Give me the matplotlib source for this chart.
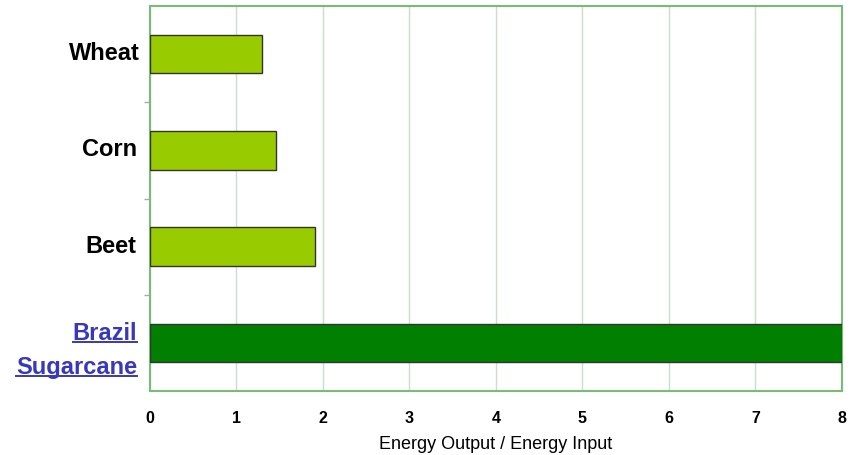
import matplotlib
matplotlib.use("Agg")
import matplotlib.pyplot as plt
from matplotlib.lines import Line2D
from matplotlib.transforms import offset_copy

plt.rcParams['font.family'] = ['Liberation Sans', 'DejaVu Sans']

categories = ["Wheat", "Corn", "Beet", "Brazil\nSugarcane"]
ratios = [1.29, 1.46, 1.91, 8.0]
bar_colors = ["#99cc00", "#99cc00", "#99cc00", "#007f00"]
x_ticks = [0, 1, 2, 3, 4, 5, 6, 7, 8]

W, H = 853, 456
fig = plt.figure(figsize=(W / 100, H / 100), dpi=100)
ax = fig.add_axes([150 / W, 1 - 392 / H, 692 / W, 385 / H])

ypos = list(range(len(categories)))
ax.barh(ypos, ratios, height=0.4, color=bar_colors, edgecolor="#333333",
        linewidth=1.0, zorder=3)

ax.set_xlim(0, 8)
ax.set_ylim(len(categories) - 0.5, -0.5)
ax.set_xticks(x_ticks)
ax.set_xticklabels([str(t) for t in x_ticks], fontsize=11.5, fontweight="bold")
ax.tick_params(axis="x", length=0, pad=14)
ax.grid(axis="x", color="#c8e0c8", linewidth=1.0, zorder=0)

ax.set_yticks(ypos)
ax.set_yticklabels([])
ax.tick_params(axis="y", which="major", length=0)
ax.set_yticks([0.5, 1.5, 2.5], minor=True)
ax.tick_params(axis="y", which="minor", length=4, color="#aaaaaa", width=1)

for s in ax.spines.values():
    s.set_color("#78bc78")
    s.set_linewidth(1.5)

ax.set_xlabel("Energy Output / Energy Input", fontsize=13, labelpad=7)

LABEL_SIZE = 17
LINK_BLUE = "#3838b8"
px = 0.72  # points per pixel at 100 dpi
xoff = -0.15


def label(text, yval, dy_px, color, dx_px=0):
    tr = offset_copy(ax.transData, fig=fig, x=dx_px * px, y=-dy_px * px,
                     units="points")
    return ax.text(xoff, yval, text, ha="right", va="baseline",
                   fontsize=LABEL_SIZE, fontweight="bold", color=color,
                   transform=tr)


label_dx = [3, 0, -1]
for i, name in enumerate(categories[:3]):
    label(name, i, 5, "black", label_dx[i])

# two-line hyperlink-style label, each line underlined
link_lines = categories[3].split("\n")
link_offsets = [-4, 30]
link_texts = [label(t, 3, d, LINK_BLUE) for t, d in zip(link_lines, link_offsets)]

fig.canvas.draw()
renderer = fig.canvas.get_renderer()
for t in link_texts:
    bb = t.get_window_extent(renderer)
    bx, by = t.get_transform().transform(t.get_position())
    y = by - 3.5
    fig.add_artist(Line2D([bb.x0 / W, bb.x1 / W], [y / H, y / H],
                          color=LINK_BLUE, linewidth=1.4,
                          transform=fig.transFigure))

fig.savefig("out.png", dpi=100)
